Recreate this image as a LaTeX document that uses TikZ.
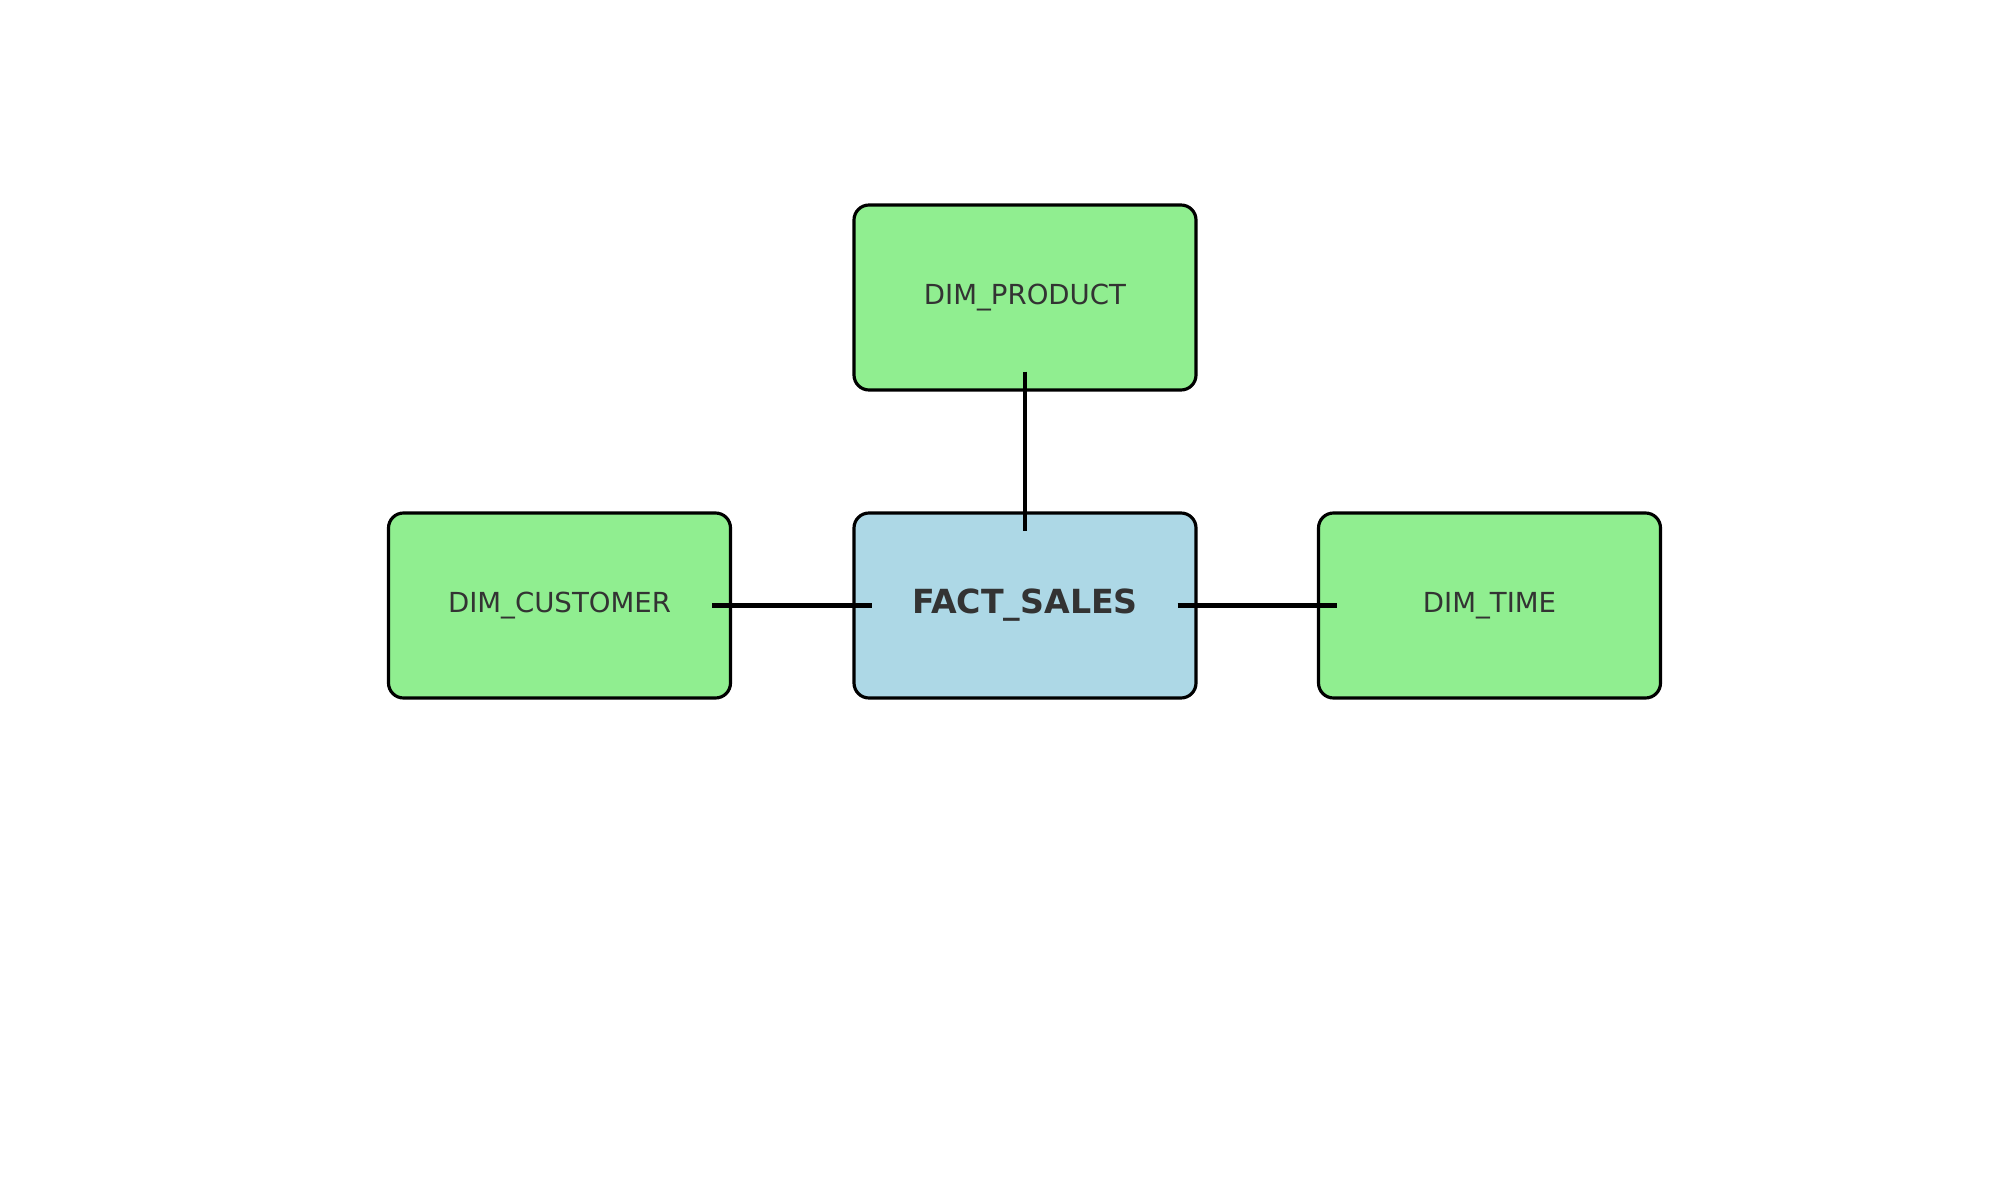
\documentclass[tikz,border=0pt]{standalone}
\usepackage{fontspec}
\setmainfont{DejaVu Sans}
\definecolor{DimGreen}{RGB}{144,238,144}
\definecolor{FactBlue}{RGB}{173,216,230}
\definecolor{LabelGray}{RGB}{51,51,51}
\usetikzlibrary{positioning}

\begin{document}
\begin{tikzpicture}[
    dim/.style={draw=black,fill=DimGreen,text=LabelGray,rounded corners=1.5mm,line width=0.9pt,
                font=\fontsize{7.85}{10}\selectfont,minimum width=3.42cm,minimum height=1.85cm},
    fact/.style={draw=black,fill=FactBlue,text=LabelGray,rounded corners=1.5mm,line width=0.9pt,
                 font=\fontsize{9.45}{12}\selectfont\bfseries,minimum width=3.42cm,minimum height=1.85cm},
    link/.style={black,line width=1.3pt,shorten >=-2mm,shorten <=-2mm}]
    \useasboundingbox (0,0) rectangle (20,12);
    \node[fact] (sales)    at (10.25,5.945)  {FACT\_SALES};
    \node[dim]  (product)  at (10.25,9.025)  {DIM\_PRODUCT};
    \node[dim]  (customer) at (5.595,5.945)  {DIM\_CUSTOMER};
    \node[dim]  (time)     at (14.895,5.945) {DIM\_TIME};
    \draw[link] (product.south) -- (sales.north);
    \draw[link] (customer.east) -- (sales.west);
    \draw[link] (sales.east) -- (time.west);
  \end{tikzpicture}
\end{document}
